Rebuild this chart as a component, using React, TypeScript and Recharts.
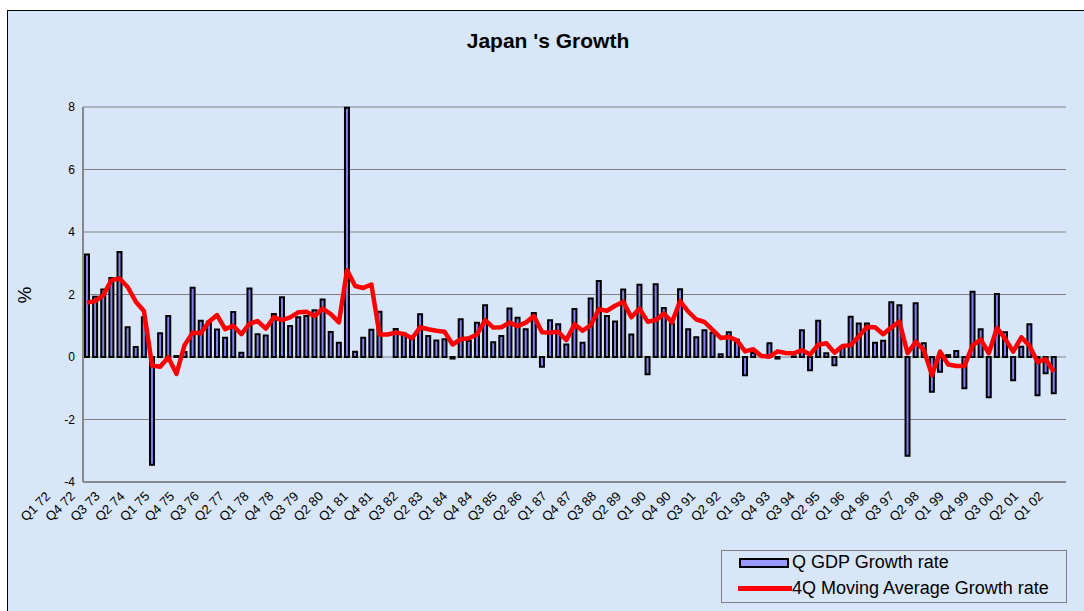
import {
  ComposedChart,
  Bar,
  Line,
  XAxis,
  YAxis,
  CartesianGrid,
} from "recharts";

const FONT = '"Liberation Sans", Arial, sans-serif';

// Q1 72 .. Q1 02 (last quarter has no data yet)
const quarters = Array.from(
  { length: 121 },
  (_, i) =>
    `Q${(i % 4) + 1} ${String((72 + Math.floor(i / 4)) % 100).padStart(2, "0")}`
);

const gdpGrowth = [
  3.28, 1.93, 2.16, 2.53, 3.36, 0.95, 0.32, 1.27, -3.45, 0.76,
  1.31, 0.03, 0.16, 2.22, 1.16, 1.13, 0.88, 0.62, 1.44, 0.14,
  2.19, 0.73, 0.69, 1.38, 1.91, 0.99, 1.27, 1.31, 1.5, 1.84,
  0.8, 0.46, 7.98, 0.17, 0.62, 0.87, 1.45, 0.0, 0.9, 0.75,
  0.6, 1.37, 0.67, 0.53, 0.57, -0.05, 1.21, 0.52, 1.1, 1.66,
  0.47, 0.67, 1.55, 1.26, 0.89, 1.41, -0.31, 1.18, 1.05, 0.4,
  1.54, 0.46, 1.87, 2.43, 1.31, 1.14, 2.16, 0.72, 2.31, -0.55,
  2.33, 1.57, 1.07, 2.17, 0.89, 0.63, 0.86, 0.78, 0.09, 0.79,
  0.55, -0.58, 0.13, 0.0, 0.44, -0.05, 0.0, 0.02, 0.86, -0.42,
  1.16, 0.12, -0.26, 0.33, 1.29, 1.07, 1.07, 0.46, 0.52, 1.75,
  1.66, -3.16, 1.72, 0.44, -1.11, -0.47, 0.06, 0.19, -1.0, 2.09,
  0.89, -1.29, 2.02, 0.79, -0.74, 0.33, 1.05, -1.22, -0.52, -1.16,
  null,
];

const movingAvg = [
  1.74, 1.79, 1.98, 2.46, 2.51, 2.24, 1.77, 1.47, -0.27, -0.31,
  -0.01, -0.54, 0.38, 0.78, 0.76, 1.13, 1.34, 0.89, 1.0, 0.73,
  1.07, 1.15, 0.91, 1.27, 1.18, 1.27, 1.43, 1.45, 1.31, 1.55,
  1.37, 1.11, 2.78, 2.27, 2.21, 2.32, 0.72, 0.72, 0.78, 0.74,
  0.6, 0.95, 0.89, 0.84, 0.81, 0.4, 0.57, 0.6, 0.72, 1.18,
  0.94, 0.95, 1.1, 0.99, 1.1, 1.31, 0.79, 0.78, 0.81, 0.54,
  1.05, 0.84, 1.02, 1.53, 1.48, 1.64, 1.77, 1.27, 1.55, 1.13,
  1.18, 1.39, 1.11, 1.79, 1.45, 1.2, 1.12, 0.87, 0.61, 0.64,
  0.53, 0.18, 0.25, 0.03, 0.01, 0.18, 0.13, 0.12, 0.22, 0.08,
  0.39, 0.44, 0.14, 0.35, 0.38, 0.66, 0.96, 0.95, 0.73, 0.95,
  1.13, 0.12, 0.49, 0.22, -0.58, 0.17, -0.24, -0.29, -0.29, 0.37,
  0.56, 0.12, 0.93, 0.59, 0.17, 0.63, 0.36, -0.16, -0.07, -0.47,
  null,
];

const yTicks = [-4, -2, 0, 2, 4, 6, 8];

const data = quarters.map((q, i) => ({
  quarter: q,
  gdp: gdpGrowth[i],
  ma: movingAvg[i],
}));

function QuarterTick(props: any) {
  const { x, y, payload } = props;
  const ci = quarters.indexOf(payload.value);
  const ax = x - 36 + ci * (18 / 120);
  const ay = y + 7;
  return (
    <text
      x={ax}
      y={ay}
      transform={`rotate(-45 ${ax} ${ay})`}
      textAnchor="end"
      fontSize={13}
      fontFamily={FONT}
      fill="#000"
    >
      {payload.value}
    </text>
  );
}

export default function App() {
  return (
    <div
      style={{
        position: "absolute",
        left: 0,
        top: 0,
        width: 1084,
        height: 611,
        overflow: "hidden",
        background: "#fff",
        fontFamily: FONT,
      }}
    >
      <div
        style={{
          position: "absolute",
          left: 7,
          top: 10,
          width: 1100,
          height: 620,
          borderLeft: "1px solid #000",
          borderTop: "1px solid #000",
          background: "#d7e6f8",
        }}
      />
      <div
        style={{
          position: "absolute",
          left: 0,
          width: 1096,
          top: 29,
          textAlign: "center",
          fontWeight: "bold",
          fontSize: 21,
        }}
      >
        Japan 's Growth
      </div>
      <div
        style={{
          position: "absolute",
          left: 14,
          top: 284,
          width: 22,
          fontSize: 19,
          textAlign: "center",
          transform: "rotate(-90deg)",
        }}
      >
        %
      </div>
      <div style={{ position: "absolute", left: 0, top: 0 }}>
        <ComposedChart
          width={1084}
          height={611}
          data={data}
          margin={{ top: 107, right: 18, bottom: 0, left: 0 }}
        >
          <CartesianGrid horizontal vertical={false} stroke="#808080" />
          <XAxis
            dataKey="quarter"
            interval={2}
            height={129}
            tick={<QuarterTick />}
            tickLine={false}
            axisLine={{ stroke: "#888", strokeWidth: 2 }}
          />
          <XAxis
            xAxisId="top"
            orientation="top"
            dataKey="quarter"
            height={0}
            tick={false}
            tickLine={false}
            axisLine={{ stroke: "#888", strokeWidth: 2 }}
          />
          <YAxis
            width={83}
            domain={[-4, 8]}
            ticks={yTicks}
            interval={0}
            tickLine={false}
            axisLine={{ stroke: "#888", strokeWidth: 2 }}
            tick={{ fontSize: 12, fill: "#000", fontFamily: FONT }}
          />
          <YAxis
            yAxisId="right"
            orientation="right"
            width={0}
            domain={[-4, 8]}
            tick={false}
            tickLine={false}
            axisLine={{ stroke: "#888", strokeWidth: 2 }}
          />
          <Bar
            dataKey="gdp"
            name="Q GDP Growth rate"
            fill="#8080ee"
            stroke="#000"
            strokeWidth={2}
            barSize={4}
            isAnimationActive={false}
          />
          <Line
            dataKey="ma"
            name="4Q Moving Average Growth rate"
            stroke="#ff0000"
            strokeWidth={4.5}
            strokeLinejoin="round"
            dot={false}
            activeDot={false}
            isAnimationActive={false}
          />
        </ComposedChart>
      </div>
      <div
        style={{
          position: "absolute",
          left: 721,
          top: 550,
          width: 346,
          height: 53,
          border: "1px solid #808080",
          boxSizing: "border-box",
          fontSize: 18,
        }}
      >
        <div
          style={{
            position: "absolute",
            left: 17,
            top: 7,
            width: 46,
            height: 6,
            border: "2px solid #000",
            background: "#9999ff",
          }}
        />
        <div style={{ position: "absolute", left: 70, top: 1, whiteSpace: "nowrap" }}>
          Q GDP Growth rate
        </div>
        <div
          style={{
            position: "absolute",
            left: 16,
            top: 35,
            width: 54,
            height: 5,
            background: "#ff0000",
          }}
        />
        <div style={{ position: "absolute", left: 70, top: 27, whiteSpace: "nowrap" }}>
          4Q Moving Average Growth rate
        </div>
      </div>
    </div>
  );
}
